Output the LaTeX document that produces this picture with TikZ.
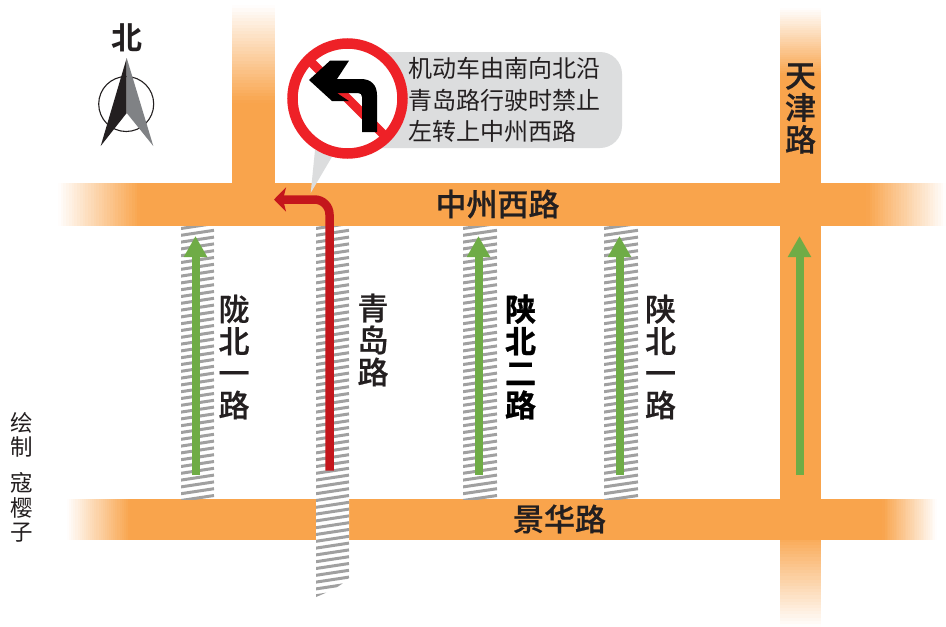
\documentclass[tikz,border=0pt]{standalone}
\usepackage{fontspec}
\setmainfont{Noto Sans CJK SC}
\newfontfamily\boldcjk[FakeBold=0.6]{Noto Sans CJK SC Medium}
\newfontfamily\heavycjk[FakeBold=0.9]{Noto Sans CJK SC Bold}
\newfontfamily\fullbold{Noto Sans CJK SC Bold}
\definecolor{roadc}{HTML}{F9A44C}
\definecolor{hatchc}{HTML}{A0A0A0}
\definecolor{greenc}{HTML}{6FAC46}
\definecolor{redarrow}{HTML}{C4161C}
\definecolor{signred}{HTML}{EE2127}
\definecolor{bubblec}{HTML}{DCDDDE}
\definecolor{inkc}{HTML}{231F20}
\definecolor{needlegrey}{HTML}{808285}
\usetikzlibrary{arrows.meta}
\lineskiplimit=-30pt
\tikzset{
  road/.style={fill=roadc,draw=none},
  roadname/.style={font=\boldcjk\fontsize{31}{31}\selectfont,text=inkc,inner sep=0pt},
  vname/.style={font=\boldcjk\fontsize{31}{32}\selectfont,text=inkc,inner sep=0pt,align=center},
  vheavy/.style={font=\heavycjk\fontsize{31}{32}\selectfont,text=black,inner sep=0pt,align=center},
  credit/.style={font=\fontsize{22.5}{24.5}\selectfont,text=inkc,inner sep=0pt,align=center},
  greenarrow/.style={draw=greenc,line width=8pt,-{Triangle[length=21pt,width=22pt]}},
}
% horizontal fade: x-start (white) x-end (road) y0 y1
\newcommand{\fadeH}[4]{%
  \foreach \ii in {0,...,29}{
    \pgfmathsetmacro{\pc}{(\ii+0.5)/30*100}
    \pgfmathsetmacro{\xa}{#1+(#2-#1)*\ii/30}
    \pgfmathsetmacro{\xb}{#1+(#2-#1)*(\ii+1.3)/30}
    \fill[roadc!\pc!white] (\xa,#3) rectangle (\xb,#4);
  }}
% vertical fade: y-start (white) y-end (road) x0 x1
\newcommand{\fadeV}[4]{%
  \foreach \ii in {0,...,29}{
    \pgfmathsetmacro{\pc}{(\ii+0.5)/30*100}
    \pgfmathsetmacro{\ya}{#1+(#2-#1)*\ii/30}
    \pgfmathsetmacro{\yb}{#1+(#2-#1)*(\ii+1.3)/30}
    \fill[roadc!\pc!white] (#3,\ya) rectangle (#4,\yb);
  }}
\newcommand{\hatchstrip}[4]{% x0 x1 y0 y1
  \begin{scope}
    \fill[white] (#1,#3) rectangle (#2,#4);
    \clip (#1,#3) rectangle (#2,#4);
    \foreach \ii in {0,...,42}{
      \draw[hatchc,line width=3pt] (#1,{#3+6.8*\ii+2.5}) -- (#2,{#3+6.8*\ii-2.5});
    }
  \end{scope}}
\begin{document}
\begin{tikzpicture}[x=1pt,y=-1pt]
\useasboundingbox (0,0) rectangle (946,627);
\fill[white] (0,0) rectangle (946,627);
% roads
\fadeV{5}{103}{232}{275}
\fill[road] (232,103) rectangle (275,184);
\fadeV{8}{75}{780}{821}
\fill[road] (780,75) rectangle (821,532);
\fadeV{627}{532}{780}{821}
\fadeH{58}{140}{183}{226}
\fill[road] (140,183) rectangle (867,226);
\fadeH{946}{867}{183}{226}
\fadeH{67}{130}{499}{540}
\fill[road] (130,499) rectangle (883,540);
\fadeH{937}{883}{499}{540}
% hatched strips
\hatchstrip{181}{214}{226}{499}
\hatchstrip{463}{497}{226}{499}
\hatchstrip{604}{638}{226}{499}
\begin{scope}
  \fill[white] (316,226) -- (349,226) -- (349,578) .. controls (340,587) and (328,592) .. (316,597) -- cycle;
  \clip (316,226) -- (349,226) -- (349,578) .. controls (340,587) and (328,592) .. (316,597) -- cycle;
  \foreach \ii in {0,...,56}{
    \draw[hatchc,line width=3pt] (316,{226+6.8*\ii+2.5}) -- (349,{226+6.8*\ii-2.5});
  }
\end{scope}
% green arrows
\coordinate (g1a) at (195.5,475); \coordinate (g1b) at (195.5,236);
\coordinate (g2a) at (478.5,475); \coordinate (g2b) at (478.5,236);
\coordinate (g3a) at (619.5,475); \coordinate (g3b) at (619.5,236);
\coordinate (g4a) at (799.5,475); \coordinate (g4b) at (799.5,236);
\draw[greenarrow] (g1a) -- (g1b);
\draw[greenarrow] (g2a) -- (g2b);
\draw[greenarrow] (g3a) -- (g3b);
\draw[greenarrow] (g4a) -- (g4b);
% red arrow
\coordinate (r1) at (329.5,470.5);
\coordinate (r2) at (329.5,199.5);
\coordinate (r3) at (274,199.5);
\draw[redarrow,line width=8.5pt,-{Stealth[length=12pt,width=24pt,inset=3pt]},rounded corners=15pt] (r1) -- (r2) -- (r3);
% bubble
\fill[bubblec] (310.7,193) -- (315,150) -- (333,155) -- cycle;
\fill[bubblec,rounded corners=22pt] (350,52) rectangle (622,148);
% sign
\fill[white] (347.5,98.5) circle (56);
\begin{scope}
  \clip (347.5,98.5) circle (56);
  \draw[signred,line width=9pt] (308,59) -- (387,138);
\end{scope}
\draw[signred,line width=10.5pt] (347.5,98.5) circle (55);
\fill[black] (309,80) -- (330,60.7) -- (349,60.7) -- (337,79) -- (361,79)
  .. controls (371,79) and (377,85) .. (377,95) -- (377,132) -- (362,132) -- (362,97)
  .. controls (362,94.5) and (360.5,93) .. (358,93) -- (337,93) -- (349,101) -- (332,101) -- cycle;
% texts
\node[inner sep=0pt,font=\fontsize{24}{31.5}\selectfont,text=inkc,align=left,anchor=west] (notice) at (408,100) {机动车由南向北沿\\青岛路行驶时禁止\\左转上中州西路};
\node[roadname] (zhongzhou) at (497.5,204) {中州西路};
\node[roadname] (jinghua) at (559.5,519) {景华路};
\node[vname] (tianjin) at (800.5,108.5) {天\\津\\路};
\node[vname] (longbei) at (234,357) {陇\\北\\一\\路};
\node[vname] (qingdao) at (373,340) {青\\岛\\路};
\node[vheavy] (shanbei2) at (520.5,357) {陕\\北\\二\\路};
\node[vname] (shanbei1) at (660.5,357) {陕\\北\\一\\路};
\node[inner sep=0pt,font=\fullbold\fontsize{31}{31}\selectfont,text=inkc] (north) at (127,37.5) {北};
\node[credit] (credit1) at (22,435) {绘\\制};
\node[credit] (credit2) at (22,507.5) {寇\\樱\\子};
% compass
\draw[inkc,line width=1.1pt] (126.2,104) circle (27.5);
\fill[inkc] (126.7,58) -- (126.7,113) -- (100.7,146) -- cycle;
\fill[needlegrey] (126.7,58) -- (126.7,113) -- (153.3,146) -- cycle;
\end{tikzpicture}
\end{document}
